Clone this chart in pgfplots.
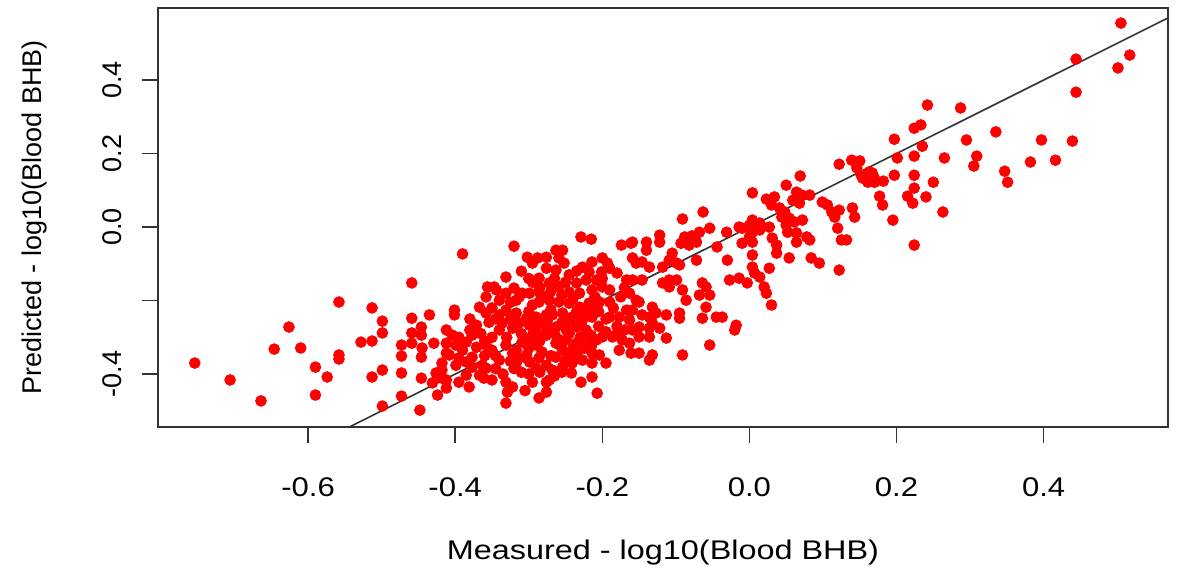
\documentclass[border=0pt]{standalone}
\usepackage{fontspec}
\setmainfont{Liberation Sans}
\usepackage{pgfplots}
\pgfplotsset{compat=1.18}

\begin{document}
\begin{tikzpicture}
\begin{axis}[
    name=ax,
    scale only axis,
    width=505pt, height=209.5pt,
    xmin=-0.804, xmax=0.569,
    ymin=-0.544, ymax=0.596,
    font=\fontsize{13.5}{16}\selectfont,
    axis line style={black!80, line width=1pt},
    tick align=outside,
    major tick length=8pt,
    tick style={black!80, line width=0.8pt},
    xtick pos=bottom, ytick pos=left,
    xtick={-0.6,-0.4,-0.2,0,0.2,0.4},
    xticklabels={-0.6,-0.4,-0.2,0.0,0.2,0.4},
    ytick={-0.4,-0.2,0,0.2,0.4},
    yticklabels={-0.4,,0.0,0.2,0.4},
    xticklabel style={anchor=center, yshift=-22pt, xscale=1.15},
    yticklabel style={rotate=90, anchor=center, yshift=15pt},
    xlabel={Measured - log10(Blood BHB)},
    ylabel={Predicted - log10(Blood BHB)},
    xlabel style={at={(axis description cs:0.5,-0.3007)}, anchor=center, xscale=1.2},
    ylabel style={at={(axis description cs:-0.1218,0.5)}, anchor=center},
]

% measured vs predicted
\addplot[only marks, mark=*, mark size=2.7pt, mark options={draw=red, fill=red}] table {
x y
-0.754 -0.370
-0.706 -0.416
-0.664 -0.473
-0.646 -0.332
-0.626 -0.272
-0.610 -0.329
-0.590 -0.381
-0.590 -0.457
-0.574 -0.408
-0.558 -0.204
-0.558 -0.348
-0.558 -0.359
-0.528 -0.313
-0.513 -0.310
-0.513 -0.220
-0.499 -0.256
-0.499 -0.288
-0.513 -0.408
-0.499 -0.389
-0.499 -0.487
-0.473 -0.321
-0.473 -0.351
-0.473 -0.397
-0.473 -0.460
-0.459 -0.152
-0.459 -0.248
-0.435 -0.239
-0.459 -0.288
-0.446 -0.272
-0.446 -0.294
-0.459 -0.316
-0.445 -0.329
-0.429 -0.316
-0.412 -0.280
-0.412 -0.316
-0.446 -0.354
-0.412 -0.343
-0.446 -0.411
-0.426 -0.397
-0.418 -0.389
-0.431 -0.424
-0.412 -0.416
-0.424 -0.457
-0.448 -0.498
-0.418 -0.370
-0.418 -0.411
-0.412 -0.438
-0.320 -0.052
-0.390 -0.073
-0.302 -0.082
-0.295 -0.098
-0.276 -0.082
-0.276 -0.112
-0.263 -0.063
-0.288 -0.084
-0.331 -0.136
-0.295 -0.150
-0.286 -0.139
-0.356 -0.163
-0.344 -0.171
-0.331 -0.180
-0.358 -0.190
-0.340 -0.199
-0.320 -0.166
-0.313 -0.190
-0.401 -0.226
-0.401 -0.239
-0.347 -0.163
-0.309 -0.180
-0.317 -0.199
-0.299 -0.180
-0.286 -0.177
-0.276 -0.190
-0.286 -0.204
-0.295 -0.212
-0.367 -0.218
-0.358 -0.234
-0.350 -0.220
-0.340 -0.239
-0.331 -0.226
-0.317 -0.234
-0.303 -0.248
-0.313 -0.261
-0.299 -0.267
-0.286 -0.259
-0.276 -0.239
-0.371 -0.267
-0.354 -0.259
-0.336 -0.261
-0.322 -0.275
-0.404 -0.294
-0.399 -0.321
-0.385 -0.313
-0.377 -0.294
-0.371 -0.327
-0.358 -0.321
-0.350 -0.335
-0.331 -0.321
-0.317 -0.335
-0.295 -0.294
-0.286 -0.294
-0.276 -0.294
-0.290 -0.321
-0.282 -0.340
-0.309 -0.313
-0.303 -0.348
-0.317 -0.348
-0.408 -0.348
-0.395 -0.356
-0.385 -0.367
-0.399 -0.376
-0.377 -0.354
-0.377 -0.381
-0.363 -0.376
-0.340 -0.362
-0.322 -0.343
-0.317 -0.370
-0.299 -0.367
-0.286 -0.356
-0.276 -0.376
-0.290 -0.384
-0.358 -0.384
-0.367 -0.403
-0.385 -0.403
-0.395 -0.422
-0.381 -0.435
-0.361 -0.411
-0.350 -0.416
-0.331 -0.422
-0.322 -0.435
-0.329 -0.449
-0.331 -0.479
-0.295 -0.422
-0.286 -0.465
-0.276 -0.449
-0.276 -0.422
-0.229 -0.027
-0.215 -0.033
-0.174 -0.049
-0.161 -0.044
-0.254 -0.063
-0.259 -0.084
-0.252 -0.098
-0.263 -0.117
-0.227 -0.109
-0.214 -0.095
-0.200 -0.084
-0.193 -0.098
-0.190 -0.112
-0.201 -0.122
-0.218 -0.122
-0.159 -0.084
-0.154 -0.098
-0.167 -0.144
-0.163 -0.180
-0.154 -0.199
-0.235 -0.152
-0.222 -0.144
-0.208 -0.144
-0.200 -0.163
-0.190 -0.171
-0.214 -0.171
-0.231 -0.180
-0.245 -0.177
-0.259 -0.163
-0.272 -0.152
-0.272 -0.199
-0.259 -0.204
-0.245 -0.207
-0.231 -0.218
-0.218 -0.207
-0.204 -0.204
-0.190 -0.204
-0.190 -0.245
-0.177 -0.245
-0.167 -0.226
-0.163 -0.253
-0.268 -0.239
-0.254 -0.234
-0.241 -0.245
-0.227 -0.253
-0.214 -0.245
-0.200 -0.299
-0.186 -0.299
-0.173 -0.307
-0.159 -0.280
-0.163 -0.316
-0.276 -0.272
-0.263 -0.272
-0.249 -0.280
-0.235 -0.272
-0.222 -0.280
-0.263 -0.316
-0.249 -0.307
-0.235 -0.316
-0.222 -0.316
-0.208 -0.307
-0.263 -0.354
-0.249 -0.343
-0.235 -0.348
-0.227 -0.362
-0.214 -0.343
-0.177 -0.335
-0.161 -0.343
-0.268 -0.389
-0.254 -0.381
-0.241 -0.370
-0.214 -0.370
-0.195 -0.370
-0.204 -0.348
-0.242 -0.397
-0.229 -0.422
-0.214 -0.408
-0.272 -0.416
-0.207 -0.452
-0.300 -0.230
-0.290 -0.245
-0.270 -0.225
-0.255 -0.260
-0.245 -0.290
-0.240 -0.330
-0.255 -0.330
-0.270 -0.350
-0.250 -0.365
-0.230 -0.300
-0.225 -0.235
-0.240 -0.195
-0.255 -0.185
-0.285 -0.165
-0.300 -0.140
-0.310 -0.120
-0.325 -0.205
-0.345 -0.250
-0.330 -0.300
-0.310 -0.395
-0.300 -0.330
-0.320 -0.385
-0.265 -0.405
-0.285 -0.310
-0.210 -0.190
-0.205 -0.270
-0.195 -0.285
-0.215 -0.295
-0.180 -0.270
-0.185 -0.220
-0.175 -0.190
-0.170 -0.165
-0.180 -0.125
-0.200 -0.140
-0.380 -0.250
-0.365 -0.290
-0.350 -0.300
-0.340 -0.280
-0.325 -0.250
-0.310 -0.290
-0.300 -0.305
-0.290 -0.270
-0.275 -0.255
-0.265 -0.290
-0.260 -0.305
-0.245 -0.255
-0.230 -0.265
-0.225 -0.330
-0.215 -0.325
-0.240 -0.355
-0.255 -0.395
-0.285 -0.395
-0.300 -0.400
-0.305 -0.445
-0.345 -0.385
-0.335 -0.400
-0.360 -0.350
-0.390 -0.335
-0.395 -0.300
-0.380 -0.280
-0.360 -0.310
-0.345 -0.350
-0.325 -0.365
-0.305 -0.355
-0.265 -0.140
-0.245 -0.130
-0.235 -0.120
-0.250 -0.150
-0.270 -0.175
-0.235 -0.230
-0.205 -0.230
-0.215 -0.220
-0.195 -0.250
-0.180 -0.290
-0.170 -0.280
-0.063 0.041
-0.091 0.022
-0.054 -0.003
-0.068 -0.014
-0.078 -0.024
-0.088 -0.027
-0.093 -0.044
-0.082 -0.049
-0.072 -0.041
-0.031 -0.014
-0.014 0.000
0.000 0.005
0.004 -0.014
-0.044 -0.054
-0.010 -0.044
0.004 -0.041
-0.122 -0.022
-0.122 -0.041
-0.140 -0.041
-0.140 -0.063
-0.159 -0.041
-0.146 -0.095
-0.136 -0.109
-0.105 -0.071
-0.109 -0.090
-0.099 -0.098
-0.118 -0.109
-0.095 -0.103
-0.072 -0.090
-0.030 -0.090
0.004 -0.076
0.004 -0.109
0.007 -0.125
-0.027 -0.144
-0.014 -0.139
-0.003 -0.152
-0.146 -0.144
-0.159 -0.144
-0.118 -0.152
-0.109 -0.144
-0.099 -0.144
-0.109 -0.163
-0.091 -0.171
-0.086 -0.199
-0.064 -0.152
-0.059 -0.163
-0.068 -0.185
-0.054 -0.185
-0.150 -0.204
-0.132 -0.218
-0.146 -0.239
-0.136 -0.245
-0.127 -0.234
-0.159 -0.226
-0.113 -0.239
-0.095 -0.234
-0.095 -0.248
-0.059 -0.218
-0.064 -0.248
-0.045 -0.245
-0.037 -0.245
-0.132 -0.261
-0.122 -0.275
-0.136 -0.275
-0.150 -0.272
-0.018 -0.267
-0.020 -0.280
-0.150 -0.299
-0.136 -0.299
-0.113 -0.302
-0.054 -0.321
-0.091 -0.348
-0.132 -0.348
-0.136 -0.362
-0.150 -0.343
0.139 0.182
0.122 0.171
0.146 0.161
0.152 0.141
0.163 0.150
0.161 0.122
0.170 0.133
0.069 0.139
0.050 0.114
0.064 0.095
0.071 0.087
0.059 0.073
0.082 0.087
0.068 0.065
0.004 0.093
0.023 0.076
0.034 0.082
0.030 0.060
0.041 0.052
0.048 0.041
0.044 0.027
0.054 0.024
0.050 0.005
0.061 0.014
0.072 0.019
0.052 -0.014
0.064 -0.016
0.099 0.068
0.106 0.060
0.112 0.041
0.122 0.046
0.116 0.027
0.140 0.052
0.143 0.027
0.004 0.019
0.014 0.011
0.003 -0.008
0.014 -0.008
0.027 0.000
0.000 -0.027
-0.010 -0.003
0.031 -0.030
0.037 -0.049
0.078 -0.027
0.082 -0.035
0.064 -0.041
0.120 -0.003
0.125 -0.035
0.132 -0.035
0.037 -0.071
0.054 -0.084
0.084 -0.084
0.095 -0.098
0.027 -0.112
0.014 -0.136
0.020 -0.163
0.023 -0.180
0.030 -0.212
0.122 -0.117
0.505 0.555
0.517 0.468
0.501 0.433
0.444 0.457
0.444 0.367
0.439 0.234
0.416 0.182
0.397 0.237
0.382 0.177
0.347 0.152
0.351 0.122
0.335 0.259
0.309 0.193
0.305 0.166
0.295 0.237
0.287 0.324
0.265 0.188
0.263 0.041
0.250 0.122
0.242 0.332
0.224 0.269
0.233 0.278
0.235 0.220
0.224 0.193
0.201 0.188
0.197 0.239
0.197 0.141
0.224 0.141
0.224 0.106
0.215 0.084
0.222 0.065
0.240 0.082
0.177 0.084
0.181 0.060
0.195 0.019
0.224 -0.049
0.154 0.133
0.167 0.147
0.170 0.122
0.182 0.125
0.150 0.180
};

% 1:1 line
\addplot[black!80, line width=0.8pt] coordinates {(-0.804,-0.804) (0.569,0.569)};

\end{axis}
\pgfresetboundingbox
\path ([shift={(-79pt,-73pt)}]ax.south west) rectangle ([shift={(5pt,4pt)}]ax.north east);
\end{tikzpicture}
\end{document}
